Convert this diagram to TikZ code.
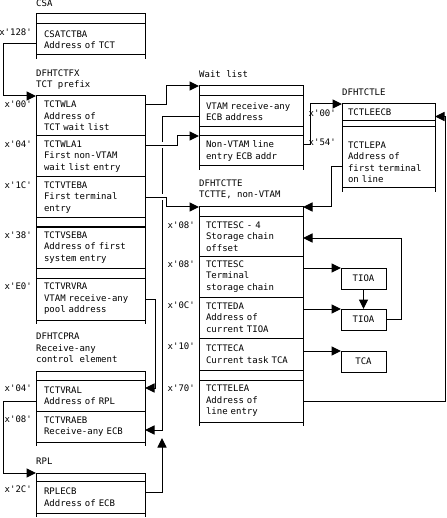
\documentclass[tikz,border=0pt]{standalone}
\usepackage{fontspec}
\setmonofont{DejaVu Sans Mono}
\usetikzlibrary{arrows.meta,positioning,backgrounds}
\begin{document}
\begin{tikzpicture}[x=1pt,y=-1pt,
        every node/.style={font=\ttfamily\fontsize{9}{11.5}\selectfont},
        field/.style={draw,line width=1pt,outer sep=0pt,inner ysep=0pt,
           inner xsep=8pt,text width=93pt,align=left},
        narrow/.style={field,inner xsep=7pt,text width=90pt},
        slim/.style={field,inner xsep=6pt,text width=81pt},
        title/.style={anchor=south west,inner sep=0pt,text depth=0pt,align=left},
        offset/.style={anchor=mid east,inner sep=0pt},
        small box/.style={draw,line width=1pt,outer sep=0pt,inner sep=0pt,
           minimum width=45pt,minimum height=21pt},
        link/.style={line width=1pt,-{Triangle[length=9.5pt,width=9pt]}},
        cross line/.style={link,preaction={draw=white,-,line width=6pt}},
    ]
    \useasboundingbox (0,0) rectangle (446,518);

    \node[field,anchor=north west,minimum height=10pt] (csahead) at (36,14) {};
    \node[field,below=0pt of csahead,minimum height=31pt] (csatctba) {CSATCTBA\\Address of TCT};
    \node[title] (csa) at ([yshift=7pt]csahead.north west) {CSA};

    \node[field,anchor=north west,minimum height=40pt] (wla) at (36,96) {TCTWLA\\Address of\\TCT wait list};
    \node[field,below=0pt of wla,minimum height=41pt] (wla1) {TCTWLA1\\First non-VTAM\\wait list entry};
    \node[field,below=0pt of wla1,minimum height=41pt] (vteba) {TCTVTEBA\\First terminal\\entry};
    \node[field,below=0pt of vteba,minimum height=9pt] (gapa) {};
    \node[field,below=0pt of gapa,minimum height=41pt] (vseba) {TCTVSEBA\\Address of first\\system entry};
    \node[field,below=0pt of vseba,minimum height=10pt] (gapb) {};
    \node[field,below=0pt of gapb,minimum height=42pt] (vrvra) {TCTVRVRA\\VTAM receive-any\\pool address};
    \node[title] (tctfx) at ([yshift=8pt]wla.north west) {DFHTCTFX\\TCT prefix};

    \node[narrow,anchor=north west,minimum height=10pt] (waithead) at (199,86) {};
    \node[narrow,below=0pt of waithead,minimum height=31pt] (vtamecb) {VTAM receive-any\\ECB address};
    \node[narrow,below=0pt of vtamecb,minimum height=9pt] (gapc) {};
    \node[narrow,below=0pt of gapc,minimum height=30pt] (nonvtam) {Non-VTAM line\\entry ECB addr};
    \node[title] (wait) at ([yshift=8pt]waithead.north west) {Wait list};

    \node[slim,anchor=north west,minimum height=17pt] (leecb) at (342,104) {TCTLEECB};
    \node[slim,below=0pt of leecb,minimum height=6pt] (gapd) {};
    \node[slim,below=0pt of gapd,minimum height=61pt,text height=16pt] (lepa) {TCTLEPA\\Address of\\first terminal\\on line};
    \node[title] (tctle) at ([yshift=8pt]leecb.north west) {DFHTCTLE};

    \node[narrow,anchor=north west,minimum height=10pt] (ttehead) at (199,207) {};
    \node[narrow,below=0pt of ttehead,minimum height=39pt] (tesc4) {TCTTESC - 4\\Storage chain\\offset};
    \node[narrow,below=0pt of tesc4,minimum height=41pt] (tesc) {TCTTESC\\Terminal\\storage chain};
    \node[narrow,below=0pt of tesc,minimum height=41pt] (teda) {TCTTEDA\\Address of\\current TIOA};
    \node[narrow,below=0pt of teda,minimum height=32pt] (teca) {TCTTECA\\Current task TCA};
    \node[narrow,below=0pt of teca,minimum height=10pt] (gape) {};
    \node[narrow,below=0pt of gape,minimum height=42pt] (telea) {TCTTELEA\\Address of\\line entry};
    \node[title] (tctte) at ([yshift=9pt]ttehead.north west) {DFHTCTTE\\TCTTE, non-VTAM};

    \node[field,anchor=north west,minimum height=9pt] (prahead) at (36,371) {};
    \node[field,below=0pt of prahead,minimum height=31pt] (vral) {TCTVRAL\\Address of RPL};
    \node[field,below=0pt of vral,minimum height=31pt] (vraeb) {TCTVRAEB\\Receive-any ECB};
    \node[title] (tcpra) at ([yshift=8pt]prahead.north west) {DFHTCPRA\\Receive-any\\control element};

    \node[field,anchor=north west,minimum height=8pt] (rplhead) at (36,473) {};
    \node[field,below=0pt of rplhead,minimum height=32pt] (rplecb) {RPLECB\\Address of ECB};
    \node[title] (rpl) at ([yshift=8pt]rplhead.north west) {RPL};

    \node[small box,anchor=north west] (tioa1) at (341,268) {TIOA};
    \node[small box,below=20pt of tioa1] (tioa2) {TIOA};
    \node[small box,below=21pt of tioa2] (tca) {TCA};

    \foreach \row/\off in {csatctba/128,wla/00,wla1/04,vteba/1C,vseba/38,vrvra/E0,
        tesc4/08,tesc/08,teda/0C,teca/10,telea/70,vral/04,vraeb/08,rplecb/2C}
      \node[offset] (off-\row) at ([xshift=-4pt,yshift=-9pt]\row.north west) {x'\off'};
    \node[offset] (off-leecb) at ([xshift=-6pt,yshift=-10pt]leecb.north west) {x'00'};
    \node[offset] (off-lepa) at ([xshift=-6pt,yshift=-16pt]lepa.north west) {x'54'};

    \foreach \last in {csatctba,vrvra,nonvtam,lepa,telea,vraeb,rplecb}
      \draw[line width=1pt] (\last.south west) -- ++(0,4) (\last.south east) -- ++(0,4);

    \begin{pgfonlayer}{background}
    \draw[link] ([yshift=-4pt]csatctba.west) -- ++(-33,0) |- (wla.north west);
    \draw[link] ([yshift=11pt]wla.east) -- ++(21,0) |- (waithead.north west);
    \draw[link] ([yshift=-5.5pt]vtamecb.west) -- ++(-37,0) |- ([yshift=-3.5pt]vraeb.east);
    \draw[cross line] ([yshift=11pt]wla1.east) -- ++(32,0) |- (nonvtam.north west);
    \draw[cross line] (vteba.east) -- ++(21,0) |- (ttehead.north west);
    \draw[link] (vrvra.east) -- ++(10,0) |- ([yshift=7.5pt]vral.east);
    \draw[link] ([yshift=-5.5pt]vral.west) -- ++(-33,0) |- (rplhead.north west);
    \draw[link] ([yshift=5pt]rplecb.east) -- ++(17,0) -- ++(0,-54);
    \draw[link] ([yshift=6pt]nonvtam.east) -- ++(7,0) |- (leecb.north west);
    \draw[link] ([yshift=-9.5pt]lepa.west) -- ++(-11,0) |- (ttehead.north east);
    \draw[link] (telea.east) -- ++(142,0) |- ([yshift=-4pt]leecb.east);
    \draw[link] (tesc.east |- tioa1.north) -- (tioa1.north west);
    \draw[link] (teda.east |- tioa2.north) -- (tioa2.north west);
    \draw[link] (teca.east |- tca.north) -- (tca.north west);
    \draw[link] (tioa1.south) -- (tioa2.north);
    \draw[link] (tioa2.east) -- ++(15,0) |- ([yshift=-1.5pt]tesc4.east);
    \end{pgfonlayer}
\end{tikzpicture}
\end{document}
